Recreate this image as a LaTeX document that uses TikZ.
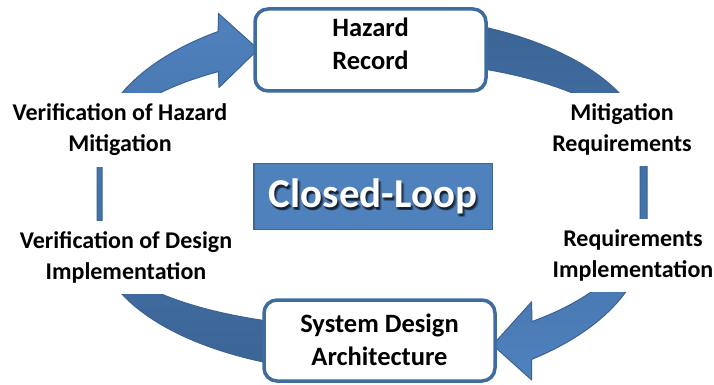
\documentclass[tikz,border=0pt]{standalone}
\usepackage{fontspec}
\setmainfont{Carlito}
\definecolor{ringdark}{HTML}{3C6596}
\definecolor{ringlight}{HTML}{4F81BD}
\definecolor{ringedge}{HTML}{3A6292}
\definecolor{boxedge}{HTML}{3E6C9E}
\definecolor{loopfill}{HTML}{4F81BD}
\definecolor{loopedge}{HTML}{3B6797}
\begin{document}
\begin{tikzpicture}[x=1pt,y=-1pt,
  stagebox/.style={draw=boxedge,line width=3.5pt,rounded corners=13pt,fill=white,
    minimum width=231pt,inner sep=0pt},
  stagetext/.style={align=center,inner sep=0pt,
    font=\fontsize{26.5}{33}\selectfont\bfseries},
  steplabel/.style={fill=white,align=center,inner xsep=2pt,inner ysep=0pt,
    minimum height=73pt,font=\fontsize{24}{31}\selectfont\bfseries},
  ringpart/.style={draw=ringedge,line width=1pt,line join=round}]
\useasboundingbox (0,0) rectangle (714,385);

% left sweep: from the design box up to the hazard record
\path[ringpart,top color=ringlight,bottom color=ringdark]
  (265.9,362.5) arc[start angle=112.7,end angle=180,x radius=275,y radius=135]
  -- (97,155) arc[start angle=180,end angle=236,x radius=275,y radius=149]
  -- (218.3,13.3) -- (258.3,49.3) -- (219,87.5) -- (218.3,71.6)
  arc[start angle=235.4,end angle=180,x radius=269,y radius=105]
  -- (102,237) arc[start angle=180,end angle=113,x radius=269,y radius=91]
  -- cycle;

% right sweep: from the hazard record down to the design box
\path[ringpart,top color=ringdark,bottom color=ringlight]
  (485.2,27.3) arc[start angle=294.3,end angle=360,x radius=275,y radius=139]
  -- (647,231.5) arc[start angle=0,end angle=54.5,x radius=275,y radius=157]
  -- (531.7,380) -- (492.7,345) -- (531.7,301.7) -- (531.8,321.6)
  arc[start angle=53.3,end angle=0,x radius=269,y radius=130.6]
  -- (640,158) arc[start angle=360,end angle=295.1,x radius=269,y radius=98]
  -- cycle;

% step labels around the loop
\node[steplabel] (vhm) at (120,130) {Verification of Hazard\\Mitigation};
\node[steplabel] (vdi) at (126,257.5) {Verification of Design\\Implementation};
\node[steplabel] (mreq) at (622,129.4) {Mitigation\\Requirements};
\node[steplabel] (rimp) at (633,255) {Requirements\\Implementation};

% the two stage boxes
\node[stagebox,minimum height=82pt] (hazard) at (370.5,50) {};
\node[stagetext] (hazardtext) at (370.5,44) {Hazard\\Record};
\node[stagebox,minimum height=81pt] (design) at (379.5,340.5) {};
\node[stagetext] (designtext) at (379.5,340) {System Design\\Architecture};

% centre title
\node[draw=loopedge,line width=1.5pt,fill=loopfill,minimum width=238.5pt,
  minimum height=66pt,inner sep=0pt] (loop) at (373,196.4) {};
\foreach \dx/\dy/\op in {2/2.5/0.35,1/1.5/0.35,3/3/0.2,0.5/3/0.2}
  \node[text=black,opacity=\op,font=\fontsize{41}{41}\selectfont\bfseries]
    (loopshade) at ([xshift=\dx pt,yshift=-\dy pt]loop.center) {Closed-Loop};
\node[text=white,font=\fontsize{41}{41}\selectfont\bfseries] (looptext)
  at (loop.center) {Closed-Loop};
\end{tikzpicture}
\end{document}
